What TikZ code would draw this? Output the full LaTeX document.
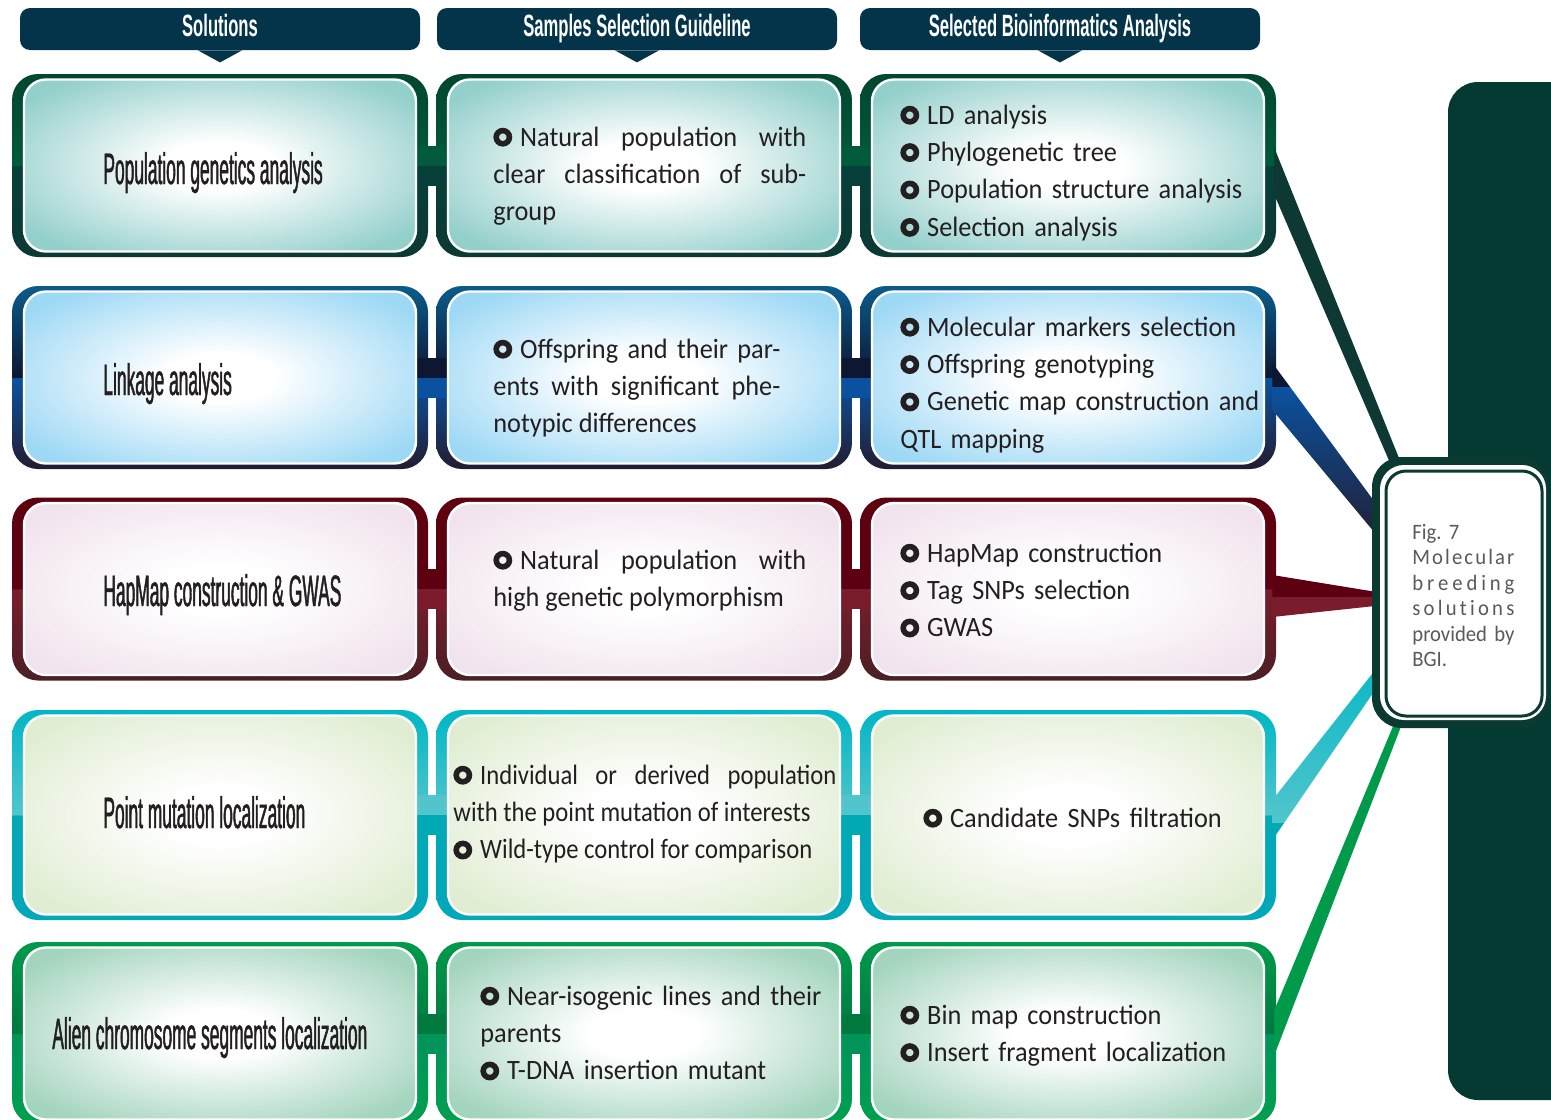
\documentclass[tikz,border=0pt]{standalone}
\usepackage{fontspec}
\setmainfont{Carlito}
\newfontfamily\bodyfont[FakeStretch=0.94]{Carlito}
\newfontfamily\narrowfont[FakeStretch=0.88]{Carlito}
\newfontfamily\condfont[FakeStretch=0.395,FakeBold=1]{Liberation Sans}
\newfontfamily\headfont[FakeStretch=0.54]{Liberation Sans}
\usetikzlibrary{positioning}
\tolerance=10000
\hbadness=10000
\hyphenpenalty=10000

\definecolor{navy}{HTML}{04344A}
\definecolor{panel}{HTML}{043A32}
\definecolor{figgreen}{HTML}{0B3A33}
\definecolor{ink}{HTML}{231F20}
\definecolor{figtext}{HTML}{5A5A5A}
% row colours: top, upper half, lower half, bottom, inner fill
\definecolor{aTop}{HTML}{00472F}\definecolor{aHi}{HTML}{005A3C}\definecolor{aLo}{HTML}{07403A}\definecolor{aBot}{HTML}{0D3833}\definecolor{aIn}{HTML}{93CFCB}
\definecolor{bTop}{HTML}{0A5C8C}\definecolor{bHi}{HTML}{0D1732}\definecolor{bLo}{HTML}{0A52A0}\definecolor{bBot}{HTML}{231D30}\definecolor{bIn}{HTML}{9DD8F5}
\definecolor{cTop}{HTML}{5E000E}\definecolor{cHi}{HTML}{5C0012}\definecolor{cLo}{HTML}{7B1C2C}\definecolor{cBot}{HTML}{4B1F25}\definecolor{cIn}{HTML}{F1E3EE}
\definecolor{dTop}{HTML}{00B7C6}\definecolor{dHi}{HTML}{52C5CC}\definecolor{dLo}{HTML}{00A9B6}\definecolor{dBot}{HTML}{00A8B9}\definecolor{dIn}{HTML}{E0EDD2}
\definecolor{eTop}{HTML}{009A4B}\definecolor{eHi}{HTML}{00793F}\definecolor{eLo}{HTML}{00935A}\definecolor{eBot}{HTML}{00A04F}\definecolor{eIn}{HTML}{A3D4BD}

\pgfdeclareverticalshading{framea}{100bp}{color(0bp)=(aBot); color(25bp)=(aBot); color(49.9bp)=(aLo); color(50.1bp)=(aHi); color(75bp)=(aTop); color(100bp)=(aTop)}
\pgfdeclareverticalshading{frameb}{100bp}{color(0bp)=(bBot); color(25bp)=(bBot); color(49.9bp)=(bLo); color(50.1bp)=(bHi); color(75bp)=(bTop); color(100bp)=(bTop)}
\pgfdeclareverticalshading{framec}{100bp}{color(0bp)=(cBot); color(25bp)=(cBot); color(49.9bp)=(cLo); color(50.1bp)=(cHi); color(75bp)=(cTop); color(100bp)=(cTop)}
\pgfdeclareverticalshading{framed}{100bp}{color(0bp)=(dBot); color(25bp)=(dBot); color(49.9bp)=(dLo); color(50.1bp)=(dHi); color(75bp)=(dTop); color(100bp)=(dTop)}
\pgfdeclareverticalshading{framee}{100bp}{color(0bp)=(eBot); color(25bp)=(eBot); color(49.9bp)=(eLo); color(50.1bp)=(eHi); color(75bp)=(eTop); color(100bp)=(eTop)}
\pgfdeclareradialshading{glowa}{\pgfpoint{0bp}{0bp}}{color(0bp)=(white); color(7bp)=(white); color(31bp)=(aIn); color(50bp)=(aIn)}
\pgfdeclareradialshading{glowb}{\pgfpoint{0bp}{0bp}}{color(0bp)=(white); color(7bp)=(white); color(31bp)=(bIn); color(50bp)=(bIn)}
\pgfdeclareradialshading{glowc}{\pgfpoint{0bp}{0bp}}{color(0bp)=(white); color(7bp)=(white); color(31bp)=(cIn); color(50bp)=(cIn)}
\pgfdeclareradialshading{glowd}{\pgfpoint{0bp}{0bp}}{color(0bp)=(white); color(7bp)=(white); color(31bp)=(dIn); color(50bp)=(dIn)}
\pgfdeclareradialshading{glowe}{\pgfpoint{0bp}{0bp}}{color(0bp)=(white); color(7bp)=(white); color(31bp)=(eIn); color(50bp)=(eIn)}

\newcommand{\ringb}{\tikz[baseline=0pt]\draw[ink, line width=2.8pt] (0,4.4pt) circle (3.3pt);\hspace{4pt}}

\begin{document}
\begin{tikzpicture}[x=0.5pt,y=-0.5pt,
    hdr/.style={fill=navy, rounded corners=5pt, minimum width=200pt, minimum height=21pt, inner sep=0pt,
        text height=11pt, text depth=4pt, text=white, font=\headfont\bfseries\fontsize{15.4}{16}\selectfont},
    frame/.style={shade, shading=frame#1, rounded corners=13pt, minimum width=208pt, minimum height=91.5pt, inner sep=0pt},
    inbox/.style={draw=white, line width=1.2pt, shade, shading=glow#1, rounded corners=11pt,
        minimum width=196pt, minimum height=86pt, inner sep=0pt},
    lbl/.style={anchor=base west, inner sep=0pt, text=ink, font=\condfont\fontsize{22}{22}\selectfont},
    txt/.style={anchor=base west, inner sep=0pt, text=ink, text width=#1, align=left,
        font=\bodyfont\fontsize{14}{18.7}\selectfont},
    jtxt/.style={txt=#1, align=justify}]
    \useasboundingbox (0,0) rectangle (1551,1119);

    % right panel
    \node [fill=panel, rounded corners=15pt, minimum width=90pt, minimum height=509pt] (panel) at (1538,591) {};

    % column headers
    \node [hdr] (hsol) at (220,29) {Solutions};
    \node [hdr] (hsmp) at (637,29) {Samples Selection Guideline};
    \node [hdr] (hbio) at (1060,29) {Selected Bioinformatics Analysis};
    \foreach \h in {hsol,hsmp,hbio}
        \fill [navy] ([xshift=-11pt]\h.south) -- ([yshift=-6pt]\h.south) -- ([xshift=11pt]\h.south) -- cycle;

    % frames
    \node [frame=a] (fsol1) at (220,165.5) {};
    \node [frame=a] (fsmp1) at (644,165.5) {};
    \node [frame=a] (fbio1) at (1068,165.5) {};
    \node [frame=b] (fsol2) at (220,377.5) {};
    \node [frame=b] (fsmp2) at (644,377.5) {};
    \node [frame=b] (fbio2) at (1068,377.5) {};
    \node [frame=c] (fsol3) at (220,589) {};
    \node [frame=c] (fsmp3) at (644,589) {};
    \node [frame=c] (fbio3) at (1068,589) {};
    \node [frame=d, minimum height=105pt] (fsol4) at (220,815) {};
    \node [frame=d, minimum height=105pt] (fsmp4) at (644,815) {};
    \node [frame=d, minimum height=105pt] (fbio4) at (1068,815) {};
    \node [frame=e] (fsol5) at (220,1033.5) {};
    \node [frame=e] (fsmp5) at (644,1033.5) {};
    \node [frame=e] (fbio5) at (1068,1033.5) {};

    % bands between the columns
    \foreach \rn/\rc in {1/a,2/b,3/c,4/d,5/e} {
        \fill [\rc Hi] ([xshift=-6pt]fsol\rn.east) rectangle ([xshift=6pt,yshift=10pt]fsmp\rn.west);
        \fill [\rc Lo] ([xshift=-6pt]fsol\rn.east) rectangle ([xshift=6pt,yshift=-10pt]fsmp\rn.west);
        \fill [\rc Hi] ([xshift=-6pt]fsmp\rn.east) rectangle ([xshift=6pt,yshift=10pt]fbio\rn.west);
        \fill [\rc Lo] ([xshift=-6pt]fsmp\rn.east) rectangle ([xshift=6pt,yshift=-10pt]fbio\rn.west);
    }

    % figure box (placed first, drawn later)
    \path (1460.5,592.5) node [minimum width=88.5pt, minimum height=135.5pt, inner sep=0pt] (fig) {};

    % wedges to the figure box
    \fill [aBot] ([xshift=-1pt,yshift=8.75pt]fbio1.east) -- ([xshift=15pt,yshift=-4pt]fig.north west)
        -- ([xshift=10pt,yshift=-5pt]fig.north west) -- ([xshift=-1pt,yshift=-14.75pt]fbio1.east) -- cycle;
    \begin{scope}
        \clip ([xshift=-2pt,yshift=7.25pt]fbio2.east) -- ([xshift=4pt,yshift=-26pt]fig.north west)
            -- ([xshift=4pt,yshift=-41pt]fig.north west) -- ([xshift=-2pt,yshift=-16.25pt]fbio2.east) -- cycle;
        \fill [bHi] ([xshift=-6pt,yshift=20pt]fbio2.east) rectangle ([xshift=60pt,yshift=-4.75pt]fbio2.east);
        \shade [top color=bLo, bottom color=bBot] ([xshift=-6pt,yshift=-4.75pt]fbio2.east) rectangle ([xshift=60pt,yshift=-85pt]fbio2.east);
    \end{scope}
    \begin{scope}
        \clip ([xshift=-2pt,yshift=7pt]fbio3.east) -- ([xshift=4pt]fig.west)
            -- ([xshift=4pt,yshift=-6.5pt]fig.west) -- ([xshift=-2pt,yshift=-14pt]fbio3.east) -- cycle;
        \fill [cHi] ([xshift=-6pt,yshift=20pt]fbio3.east) rectangle ([xshift=60pt,yshift=-4pt]fbio3.east);
        \fill [cLo] ([xshift=-6pt,yshift=-4pt]fbio3.east) rectangle ([xshift=60pt,yshift=-30pt]fbio3.east);
    \end{scope}
    \begin{scope}
        \clip ([xshift=-2pt,yshift=7.5pt]fbio4.east) -- ([xshift=4pt,yshift=32pt]fig.south west)
            -- ([xshift=4pt,yshift=22.5pt]fig.south west) -- ([xshift=-2pt,yshift=-12.5pt]fbio4.east) -- cycle;
        \shade [top color=dTop, bottom color=dHi] ([xshift=-6pt,yshift=85pt]fbio4.east) rectangle ([xshift=60pt,yshift=-4pt]fbio4.east);
        \fill [dLo] ([xshift=-6pt,yshift=-4pt]fbio4.east) rectangle ([xshift=60pt,yshift=-30pt]fbio4.east);
    \end{scope}
    \fill [eTop] ([xshift=-1pt,yshift=11.75pt]fbio5.east) -- ([xshift=11.5pt,yshift=3pt]fig.south west)
        -- ([xshift=15.5pt,yshift=3pt]fig.south west) -- ([xshift=-1pt,yshift=-10.75pt]fbio5.east) -- cycle;

    % inner boxes
    \foreach \rn/\rc in {1/a,2/b,3/c,5/e} {
        \node [inbox=\rc] (sol\rn) at (fsol\rn) {};
        \node [inbox=\rc] (smp\rn) at (fsmp\rn) {};
        \node [inbox=\rc] (bio\rn) at (fbio\rn) {};
    }
    \node [inbox=d, minimum height=99.5pt] (sol4) at (fsol4) {};
    \node [inbox=d, minimum height=99.5pt] (smp4) at (fsmp4) {};
    \node [inbox=d, minimum height=99.5pt] (bio4) at (fbio4) {};

    % figure box
    \node [fill=figgreen, rounded corners=15pt, minimum width=88.5pt, minimum height=135.5pt] at (fig) {};
    \node [fill=white, rounded corners=12pt, minimum width=83pt, minimum height=127.5pt, inner sep=0pt] (figw) at ([xshift=1.25pt]fig.center) {};
    \node [draw=figgreen, line width=1.5pt, rounded corners=10pt, minimum width=78pt, minimum height=122.5pt, inner sep=0pt] (figl) at ([xshift=1.75pt,yshift=-0.5pt]fig.center) {};
    \node [anchor=base west, inner sep=0pt, text=figtext, text width=51pt, align=left,
        font=\bodyfont\fontsize{11}{12.75}\selectfont] (figtxt) at (1412,539)
        {Fig.~7\\
         \makebox[51pt][s]{M\hfill o\hfill l\hfill e\hfill c\hfill u\hfill l\hfill a\hfill r}\\
         \makebox[51pt][s]{b\hfill r\hfill e\hfill e\hfill d\hfill i\hfill n\hfill g}\\
         \makebox[51pt][s]{s\hfill o\hfill l\hfill u\hfill t\hfill i\hfill o\hfill n\hfill s}\\
         \makebox[51pt][s]{provided by}\\
         BGI.};

    % texts
    \node [lbl] (lsol1) at (103,184) {Population genetics analysis};
    \node [jtxt=156.5pt] (tsmp1) at (493,146) {\ringb Natural population with\linebreak clear classification of sub-\linebreak group};
    \node [txt=180pt] (tbio1) at (900,124) {\ringb LD analysis\\ \ringb Phylogenetic tree\\ \ringb Population structure analysis\\ \ringb Selection analysis};

    \node [lbl] (lsol2) at (103,395) {Linkage analysis};
    \node [jtxt=143.5pt] (tsmp2) at (493,358) {\ringb Offspring and their par-\linebreak ents with significant phe-\linebreak notypic differences};
    \node [txt=185pt] (tbio2) at (900,336) {\ringb Molecular markers selection\\ \ringb Offspring genotyping\\ \ringb Genetic map construction and\\ QTL mapping};

    \node [lbl] (lsol3) at (103,606) {HapMap construction \& GWAS};
    \node [jtxt=156.5pt] (tsmp3) at (493,569) {\ringb Natural population with\linebreak high genetic polymorphism};
    \node [txt=180pt] (tbio3) at (900,562) {\ringb HapMap construction\\ \ringb Tag SNPs selection\\ \ringb GWAS};

    \node [lbl] (lsol4) at (103,828) {Point mutation localization};
    \node [jtxt=191.5pt, font=\narrowfont\fontsize{14}{18.7}\selectfont] (tsmp4) at (453,784) {\ringb Individual or derived population\linebreak with the point mutation of interests\\ \ringb Wild-type control for comparison};
    \node [txt=180pt] (tbio4) at (923,827) {\ringb Candidate SNPs filtration};

    \node [lbl] (lsol5) at (52,1049) {Alien chromosome segments localization};
    \node [txt=180pt] (tsmp5) at (480,1005) {\ringb Near-isogenic lines and their\\ parents\\ \ringb T-DNA insertion mutant};
    \node [txt=180pt] (tbio5) at (900,1024) {\ringb Bin map construction\\ \ringb Insert fragment localization};
\end{tikzpicture}
\end{document}
